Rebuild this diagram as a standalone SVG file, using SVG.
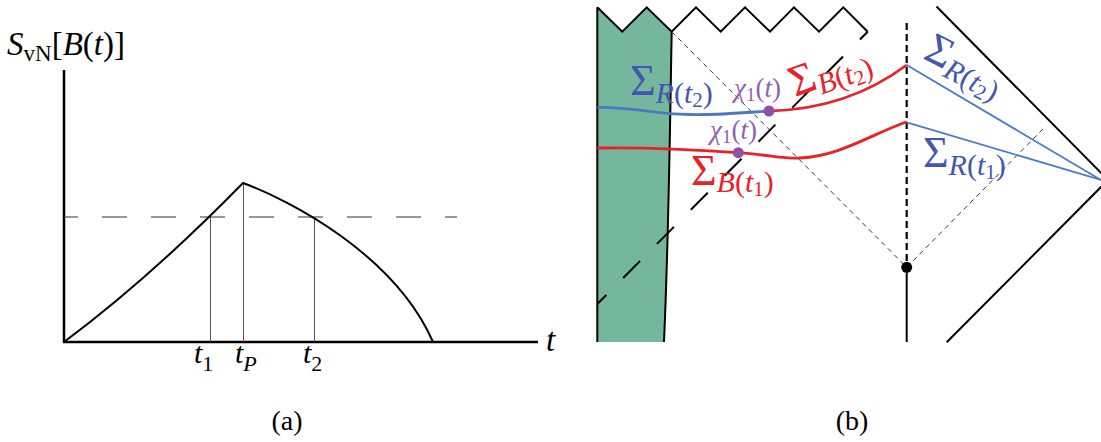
<svg xmlns="http://www.w3.org/2000/svg" width="1101" height="442" viewBox="0 0 1101 442">
<style>
text{font-family:"Liberation Serif","Times New Roman",serif;}
.i{font-style:italic;}
.ax{stroke:#000;stroke-width:2.5;fill:none;}
.cur{stroke:#000;stroke-width:2;fill:none;}
.vl{stroke:#555;stroke-width:1;}
.blk{stroke:#000;stroke-width:2;fill:none;}
.thin{stroke:#333;stroke-width:1;stroke-dasharray:5 4;fill:none;}
.red{stroke:#ec2027;stroke-width:2.8;fill:none;}
.blue{stroke:#4a79c2;stroke-width:2.8;fill:none;}
.bl{stroke:#4a7cc6;stroke-width:1.8;fill:none;}
.tb{fill:#4356b0;}
.tr{fill:#ec2027;}
.tp{fill:#9160b0;}
</style>
<rect width="1101" height="442" fill="#fff"/>

<g id="panel-a">
  <g id="axes">
    <path class="ax" d="M64,70 L64,342 L538,342"/>
  </g>
  <g id="threshold">
    <line x1="64" y1="217" x2="457" y2="217" stroke="#333" stroke-width="1.2" stroke-dasharray="25 24" stroke-dashoffset="11"/>
  </g>
  <g id="markers">
    <line class="vl" x1="210.5" y1="217" x2="210.5" y2="342"/>
    <line class="vl" x1="243.5" y1="183" x2="243.5" y2="342"/>
    <line class="vl" x1="314.5" y1="217" x2="314.5" y2="342"/>
  </g>
  <g id="curve">
    <path class="cur" d="M64,342 Q150,278 243,183 C290,200 395,255 433,342"/>
  </g>
  <g id="labels-a" font-size="33">
    <text x="7" y="55"><tspan class="i">S</tspan><tspan font-size="23" dy="6">vN</tspan><tspan dy="-6">[</tspan><tspan class="i">B</tspan>(<tspan class="i">t</tspan>)]</text>
    <text x="546" y="351" class="i">t</text>
    <text x="194" y="363" font-size="30"><tspan class="i">t</tspan><tspan font-size="22" dy="8">1</tspan></text>
    <text x="235" y="363" font-size="30"><tspan class="i">t</tspan><tspan font-size="22" dy="8" class="i">P</tspan></text>
    <text x="303" y="363" font-size="30"><tspan class="i">t</tspan><tspan font-size="22" dy="8">2</tspan></text>
    <text x="287" y="430" font-size="28" text-anchor="middle">(a)</text>
  </g>
</g>

<g id="panel-b">
  <g id="bath">
    <path d="M597.3,7.3 L622.3,31.7 L646.7,7.3 L671.7,31.7 C670,120 669,230 664,342 L597.3,342 Z" fill="#74b79d"/>
    <path class="blk" d="M597.3,7.3 L597.3,342"/>
    <path class="blk" d="M671.7,31.7 C670,120 669,230 664,342"/>
  </g>
  <g id="singularity">
    <path class="blk" d="M597.3,7.3 L622.3,31.7 L646.7,7.3 L671.7,31.7 L696,7.3 L720.7,31.7 L745,7.3 L770,31.7 L794,7.3 L819,31.7 L843.3,7.3 L867.7,31.7"/>
  </g>
  <g id="connectors">
    <line x1="867.7" y1="31.7" x2="597.3" y2="304" stroke="#000" stroke-width="2" stroke-dasharray="24 24" stroke-dashoffset="13"/>
    <path class="thin" d="M671.7,31.7 L906.7,267.3 L1045,127"/>
    <line x1="906.7" y1="23" x2="906.7" y2="267" stroke="#000" stroke-width="2.2" stroke-dasharray="7 4"/>
    <line x1="906.7" y1="267" x2="906.7" y2="342" stroke="#000" stroke-width="2"/>
    <path class="blk" d="M936.5,6.5 L1106,178"/>
    <path class="blk" d="M1106,182 L946.7,342.3"/>
    <path class="bl" d="M906.7,65 L1101,180"/>
    <path class="bl" d="M906.7,122.3 L1101,180"/>
    <path class="blue" d="M597.3,107.3 C640,107 650,114.5 690,114.5 C720,115 740,113 769,111"/>
    <path class="red" d="M769,111 C810,110 860,100 906.7,65"/>
    <path class="red" d="M597.3,148 C650,147 700,150 738,152.7 C770,155 785,159 800,158 C840,156 870,135 906.7,121.7"/>
  </g>
  <g id="points">
    <circle cx="906.7" cy="267.3" r="5.5" fill="#000"/>
    <circle cx="769" cy="111" r="5.5" fill="#9150a8"/>
    <circle cx="738.3" cy="152.7" r="5.5" fill="#9150a8"/>
  </g>
  <g id="labels-b">
    <text x="630" y="95" class="tb" font-size="44">Σ<tspan font-size="30" dy="8" class="i">R</tspan><tspan font-size="30">(</tspan><tspan font-size="30" class="i">t</tspan><tspan font-size="21" dy="4">2</tspan><tspan font-size="30" dy="-4">)</tspan></text>
    <text x="734" y="97" class="tp" font-size="27"><tspan class="i">χ</tspan><tspan font-size="19" dy="4">1</tspan><tspan dy="-4">(</tspan><tspan class="i">t</tspan>)</text>
    <text x="710" y="139" class="tp" font-size="27"><tspan class="i">χ</tspan><tspan font-size="19" dy="4">1</tspan><tspan dy="-4">(</tspan><tspan class="i">t</tspan>)</text>
    <text x="691" y="185" class="tr" font-size="44">Σ<tspan font-size="30" dy="7" class="i">B</tspan><tspan font-size="30">(</tspan><tspan font-size="30" class="i">t</tspan><tspan font-size="21" dy="4">1</tspan><tspan font-size="30" dy="-4">)</tspan></text>
    <text x="0" y="0" class="tr" font-size="44" transform="translate(795,97) rotate(-20)">Σ<tspan font-size="30" dy="7" class="i">B</tspan><tspan font-size="30">(</tspan><tspan font-size="30" class="i">t</tspan><tspan font-size="21" dy="4">2</tspan><tspan font-size="30" dy="-4">)</tspan></text>
    <text x="0" y="0" class="tb" font-size="44" transform="translate(922,58) rotate(27)">Σ<tspan font-size="30" dy="7" class="i">R</tspan><tspan font-size="30">(</tspan><tspan font-size="30" class="i">t</tspan><tspan font-size="21" dy="4">2</tspan><tspan font-size="30" dy="-4">)</tspan></text>
    <text x="923" y="167" class="tb" font-size="44">Σ<tspan font-size="30" dy="8" class="i">R</tspan><tspan font-size="30">(</tspan><tspan font-size="30" class="i">t</tspan><tspan font-size="21" dy="4">1</tspan><tspan font-size="30" dy="-4">)</tspan></text>
    <text x="852" y="430" font-size="28" text-anchor="middle">(b)</text>
  </g>
</g>
</svg>
